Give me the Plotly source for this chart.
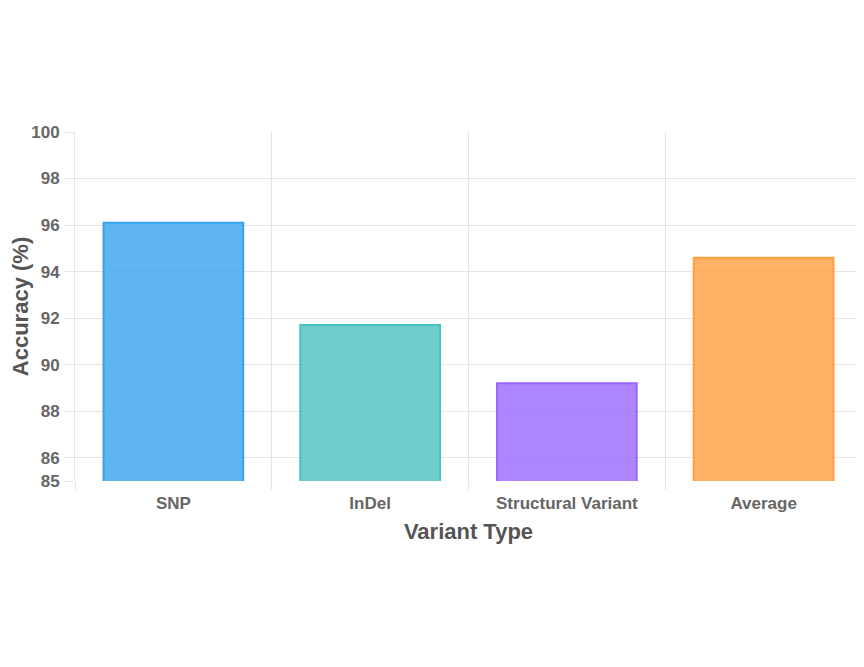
import plotly.graph_objects as go

categories = ["SNP", "InDel", "Structural Variant", "Average"]
accuracy = [96.1, 91.7, 89.2, 94.6]
fill_colors = ["rgba(54,162,235,0.8)", "rgba(75,192,192,0.8)", "rgba(153,102,255,0.8)", "rgba(255,159,64,0.8)"]
line_colors = ["rgb(54,162,235)", "rgb(75,192,192)", "rgb(153,102,255)", "rgb(255,159,64)"]
y_ticks = [85, 86, 88, 90, 92, 94, 96, 98, 100]

fig = go.Figure(go.Bar(
    x=categories, y=accuracy,
    marker=dict(color=fill_colors, line=dict(color=line_colors, width=2)),
    hoverinfo="x+y",
))

font_family = "Liberation Sans, Arial, sans-serif"
fig.update_layout(
    width=856, height=659,
    margin=dict(l=67, r=2, t=124, b=186),
    paper_bgcolor="white", plot_bgcolor="white",
    bargap=0.29,
    showlegend=False,
    font=dict(family=font_family, color="#666"),
)
fig.update_xaxes(
    automargin=False,
    tickson="boundaries", showgrid=True, gridcolor="#e5e5e5", gridwidth=1,
    ticks="outside", ticklen=8, tickcolor="#e5e5e5",
    ticklabelstandoff=10,
    showline=False, zeroline=False,
    tickfont=dict(size=17, color="#666", family=font_family, weight="bold"),
    title=dict(text="<b>Variant Type</b>", font=dict(size=22, color="#555", family=font_family), standoff=11),
    range=[-0.5, 3.5],
)
fig.update_yaxes(
    automargin=False,
    range=[85, 100], tickvals=y_ticks, ticktext=[str(v) for v in y_ticks],
    showgrid=True, gridcolor="#e5e5e5", gridwidth=1,
    ticks="outside", ticklen=9, tickcolor="#e5e5e5",
    ticklabelstandoff=2,
    zeroline=False, showline=True, linecolor="#e5e5e5", linewidth=1,
    tickfont=dict(size=17, color="#666", family=font_family, weight="bold"),
    title=dict(text="<b>Accuracy (%)</b>", font=dict(size=22, color="#555", family=font_family), standoff=4),
)

fig.write_html("out.html")
